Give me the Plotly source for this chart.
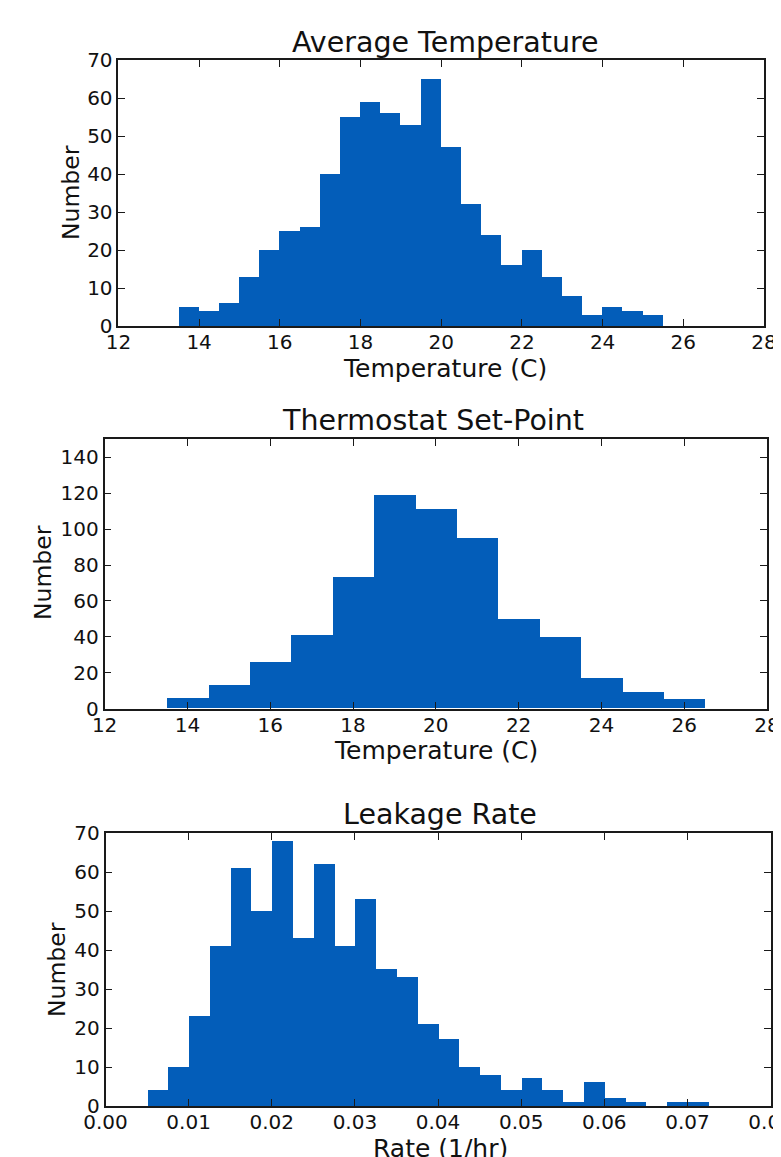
import plotly.graph_objects as go

# ---------------- data ----------------
avg_temp_edges = [13.5, 14.0, 14.5, 15.0, 15.5, 16.0, 16.5, 17.0, 17.5, 18.0, 18.5, 19.0, 19.5,
                  20.0, 20.5, 21.0, 21.5, 22.0, 22.5, 23.0, 23.5, 24.0, 24.5, 25.0, 25.5, 26.0, 26.5]
avg_temp_counts = [5, 4, 6, 13, 20, 25, 26, 40, 55, 59, 56, 53, 65,
                   47, 32, 24, 16, 20, 13, 8, 3, 5, 4, 3, 0, 0]

setpoint_edges = [13.5, 14.5, 15.5, 16.5, 17.5, 18.5, 19.5, 20.5, 21.5, 22.5, 23.5, 24.5, 25.5, 26.5]
setpoint_counts = [6, 13, 26, 41, 73, 119, 111, 95, 50, 40, 17, 9, 5]

leak_edges = [0.005, 0.0075, 0.010, 0.0125, 0.015, 0.0175, 0.020, 0.0225, 0.025, 0.0275,
              0.030, 0.0325, 0.035, 0.0375, 0.040, 0.0425, 0.045, 0.0475, 0.050, 0.0525,
              0.055, 0.0575, 0.060, 0.0625, 0.065, 0.0675, 0.070, 0.0725]
leak_counts = [4, 10, 23, 41, 61, 50, 68, 43, 62, 41, 53, 35, 33, 21, 17, 10, 8, 4, 7, 4,
               1, 6, 2, 1, 0, 1, 1]

temp_ticks = [12, 14, 16, 18, 20, 22, 24, 26, 28]
leak_ticks = [0.00, 0.01, 0.02, 0.03, 0.04, 0.05, 0.06, 0.07, 0.08]

# ---------------- layout helpers ----------------
OFF = 8  # default page (body) margin in the browser
W, H = 781 - OFF, 1157 - OFF
BAR_COLOR = "#035DB9"
FONT = "DejaVu Sans"


def px(x):
    return (x - OFF) / W


def py(y):
    return 1 - (y - OFF) / H


def bars(edges, counts, xa, ya):
    centers = [(edges[i] + edges[i + 1]) / 2 for i in range(len(counts))]
    widths = [edges[i + 1] - edges[i] for i in range(len(counts))]
    return go.Bar(x=centers, y=counts, width=widths, marker=dict(color=BAR_COLOR, line=dict(width=0)),
                  xaxis=xa, yaxis=ya, showlegend=False, hoverinfo="x+y")


fig = go.Figure()
fig.add_trace(bars(avg_temp_edges, avg_temp_counts, "x", "y"))
fig.add_trace(bars(setpoint_edges, setpoint_counts, "x2", "y2"))
fig.add_trace(bars(leak_edges, leak_counts, "x3", "y3"))

axis_common = dict(showline=True, linewidth=1.6, linecolor="#1a1a1a", mirror="ticks",
                   ticks="inside", ticklen=7, tickwidth=1.2, tickcolor="#1a1a1a",
                   showgrid=False, zeroline=False, automargin=False,
                   ticklabeloverflow="allow",
                   tickfont=dict(family=FONT, size=20, color="#111"))
x_common = dict(axis_common, ticklabelstandoff=-3)

# panel pixel boxes in page coordinates: (left, right, top, bottom)
p1 = (118.4, 764.0, 60, 326)
p2 = (104.6, 767.0, 439.3, 708.7)
p3 = (105.5, 770.6, 833.3, 1106)

fig.update_layout(
    template="none",
    width=W, height=H,
    margin=dict(l=0, r=0, t=0, b=0, pad=0),
    paper_bgcolor="white", plot_bgcolor="white",
    bargap=0,
    xaxis=dict(domain=[px(p1[0]), px(p1[1])], anchor="y", range=[12, 28],
               tickvals=temp_ticks, **x_common),
    yaxis=dict(domain=[py(p1[3]), py(p1[2])], anchor="x", range=[0, 70], dtick=10, **axis_common),
    xaxis2=dict(domain=[px(p2[0]), px(p2[1])], anchor="y2", range=[12, 28],
                tickvals=temp_ticks, **x_common),
    yaxis2=dict(domain=[py(p2[3]), py(p2[2])], anchor="x2", range=[0, 150],
                tickvals=[0, 20, 40, 60, 80, 100, 120, 140], **axis_common),
    xaxis3=dict(domain=[px(p3[0]), px(p3[1])], anchor="y3", range=[0, 0.08],
                tickvals=leak_ticks, tickformat=".2f", **x_common),
    yaxis3=dict(domain=[py(p3[3]), py(p3[2])], anchor="x3", range=[0, 70], dtick=10, **axis_common),
)


def label(text, x, y, size, angle=0):
    fig.add_annotation(text=text, x=px(x), y=py(y), xref="paper", yref="paper",
                       xanchor="center", yanchor="middle", showarrow=False, textangle=angle,
                       font=dict(family=FONT, size=size, color="#111"))


# titles
label("Average Temperature", 445, 42, 28.5)
label("Thermostat Set-Point", 433, 420, 28.5)
label("Leakage Rate", 440, 814, 28.5)
# x-axis labels
label("Temperature (C)", 445, 368, 25)
label("Temperature (C)", 436, 750, 25)
label("Rate (1/hr)", 440, 1148, 25)
# y-axis labels
label("Number", 71, 193, 23.5, -90)
label("Number", 43, 573, 23.5, -90)
label("Number", 57, 970, 23.5, -90)

fig.write_html("out.html")
